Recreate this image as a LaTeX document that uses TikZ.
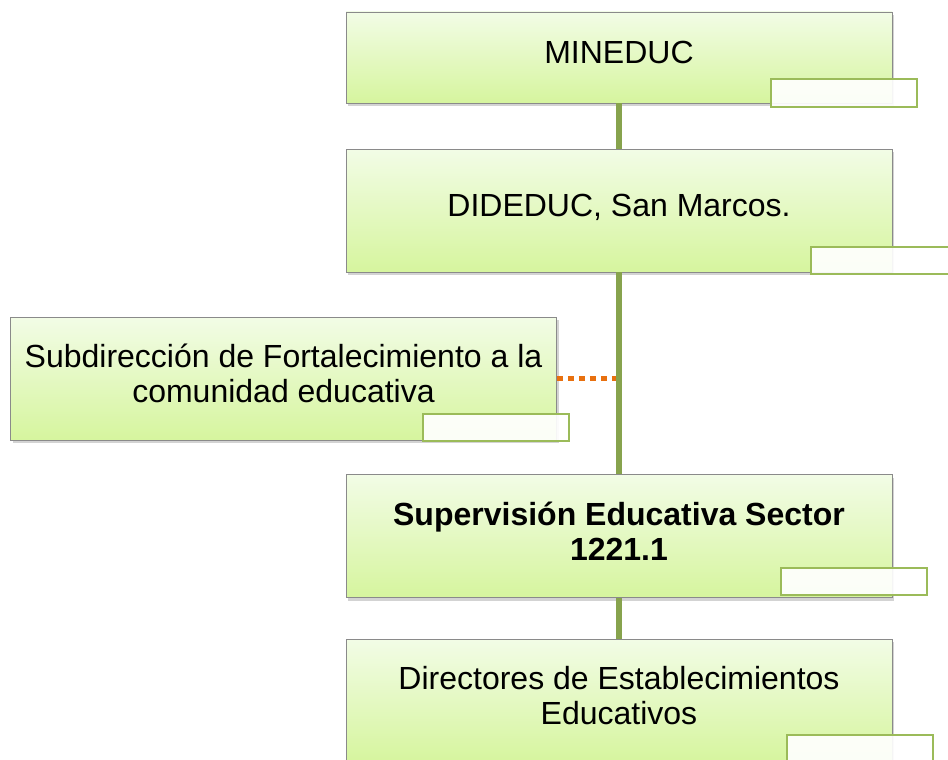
\documentclass[tikz,border=0pt]{standalone}
\usepackage{fontspec}
\setmainfont{Liberation Sans}
\usetikzlibrary{shadows}
\definecolor{boxtop}{HTML}{F2FCE6}
\definecolor{boxbot}{HTML}{D6F59E}
\definecolor{boxline}{HTML}{8A8A8A}
\definecolor{tagline}{HTML}{9BBB59}
\definecolor{linkgreen}{HTML}{87A34D}
\definecolor{linkorange}{HTML}{E8700F}
\tikzset{
  orgbox/.style={draw=boxline, line width=0.8pt, top color=boxtop, bottom color=boxbot,
    minimum width=546pt, minimum height=123pt, inner sep=0pt, align=center,
    font=\fontsize{32}{35}\selectfont,
    execute at end node={\rule[-10pt]{0pt}{10pt}},
    drop shadow={opacity=0.35, shadow xshift=2pt, shadow yshift=-3pt}},
  tagbox/.style={draw=tagline, line width=2pt, fill=white, fill opacity=0.92,
    minimum width=146pt, minimum height=27pt, inner sep=0pt},
  orglink/.style={draw=linkgreen, line width=5.5pt},
  staffline/.style={draw=linkorange, line width=5.5pt, dash pattern=on 6pt off 5pt},
}
\begin{document}
\begin{tikzpicture}[x=1pt,y=-1pt]
      \useasboundingbox (0,0) rectangle (948,760);
      \draw
        (619,57.5) node[orgbox, minimum height=91pt] (mineduc){MINEDUC}
        (619,210.5) node[orgbox] (dideduc){DIDEDUC, San Marcos.}
        (283.5,378.5) node[orgbox] (subdir){Subdirección de Fortalecimiento a la\\comunidad educativa}
        (619,536) node[orgbox, font=\bfseries\fontsize{32}{35}\selectfont] (superv){Supervisión Educativa Sector\\1221.1}
        (619,700.5) node[orgbox] (director){Directores de Establecimientos\\Educativos};
      \draw
        (844,93) node[tagbox] (mineducTag){}
        (884,260) node[tagbox] (dideducTag){}
        (496,427) node[tagbox] (subdirTag){}
        (853.5,581) node[tagbox] (supervTag){}
        (860,748) node[tagbox] (directorTag){};
      \coordinate (junction) at (619,378.5);
      \begin{scope}[staffline]
        \draw (subdir) to (junction);
      \end{scope}
      \begin{scope}[orglink]
        \draw (mineduc) to (dideduc);
        \draw (dideduc) to (superv);
        \draw (superv) to (director);
      \end{scope}
    \end{tikzpicture}
\end{document}
